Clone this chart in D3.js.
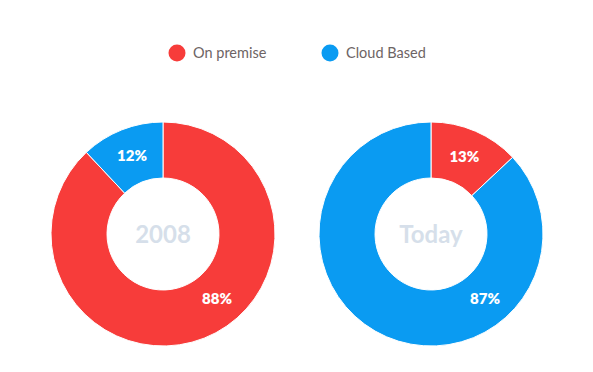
<!DOCTYPE html>
<html>
<head>
<meta charset="utf-8">
<script src="https://cdnjs.cloudflare.com/ajax/libs/d3/7.8.5/d3.min.js"></script>
<style>
  body { margin: 0; background: #fff; }
  svg { display: block; font-family: Lato, "Open Sans", sans-serif; }
</style>
</head>
<body>
<svg id="chart" width="593" height="372"></svg>
<script>
var series = ["On premise", "Cloud Based"];
var colors = ["#f73c3a", "#0a9bf2"];
var years = ["2008", "Today"];
var values2008 = [88, 12];
var valuesToday = [13, 87];

var svg = d3.select("#chart");

// legend
var legendX = d3.scalePoint().domain(series).range([177, 330]);
var legend = svg.selectAll(".legend").data(series).enter().append("g")
    .attr("class", "legend")
    .attr("transform", function (d) { return "translate(" + legendX(d) + ",53)"; });
legend.append("circle").attr("r", 8.5).attr("fill", function (d, i) { return colors[i]; });
legend.append("text").attr("x", 16).attr("dy", "0.35em")
    .attr("font-size", 14.5).attr("fill", "#6d6464")
    .text(function (d) { return d; });

// donuts
var outerR = 112, innerR = 56;
var xPos = d3.scalePoint().domain(years).range([163, 431]);
var pie = d3.pie().sort(null);
var arc = d3.arc().innerRadius(innerR).outerRadius(outerR);
var labelR = (innerR + outerR) / 2;

var allValues = [values2008, valuesToday];

years.forEach(function (year, k) {
    var g = svg.append("g").attr("transform", "translate(" + xPos(year) + ",234)");
    var arcs = pie(allValues[k]);

    g.selectAll("path").data(arcs).enter().append("path")
        .attr("d", arc)
        .attr("fill", function (d, i) { return colors[i]; })
        .attr("stroke", "#fff")
        .attr("stroke-width", 1);

    g.selectAll(".lbl").data(arcs).enter().append("text")
        .attr("class", "lbl")
        .attr("transform", function (d) {
            var a = (d.startAngle + d.endAngle) / 2;
            // big slices get their label in the lower right
            if (d.endAngle - d.startAngle > Math.PI) a = 140 * Math.PI / 180;
            return "translate(" + (labelR * Math.sin(a)) + "," + (-labelR * Math.cos(a)) + ")";
        })
        .attr("text-anchor", "middle").attr("dy", "0.35em")
        .attr("font-size", 15).attr("font-weight", 800).attr("fill", "#fff")
        .text(function (d) { return d.data + "%"; });

    g.append("text")
        .attr("text-anchor", "middle").attr("dy", "0.36em")
        .attr("font-size", 24).attr("font-weight", 700).attr("fill", "#d6dfea")
        .text(year);
});
</script>
</body>
</html>
